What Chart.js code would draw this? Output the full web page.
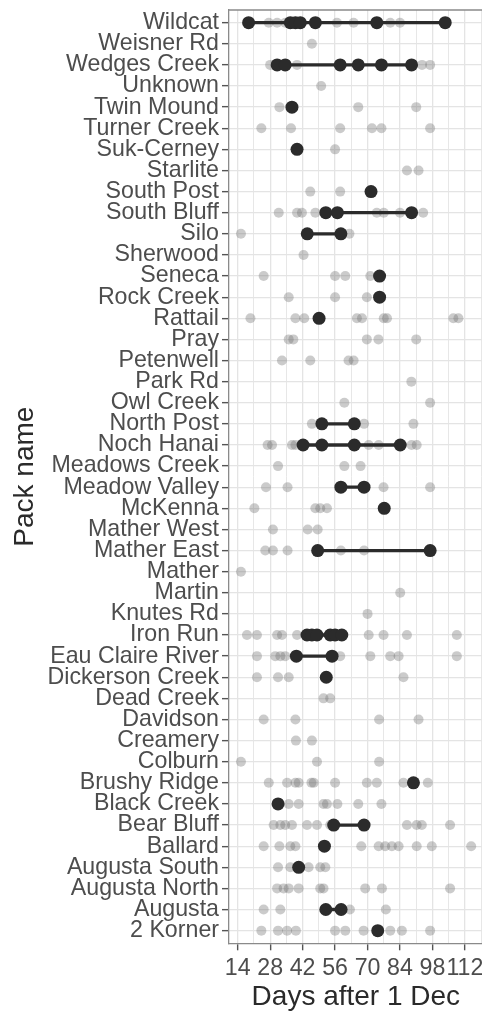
<!DOCTYPE html>
<html>
<head>
<meta charset="utf-8">
<script src="https://cdn.jsdelivr.net/npm/chart.js@4/dist/chart.umd.min.js"></script>
<style>
html,body{margin:0;padding:0;background:#fff;overflow:hidden;}
#wrap{position:absolute;left:0;top:0;width:500px;height:1012px;}
</style>
</head>
<body>
<div id="wrap"><canvas id="c" width="500" height="1012"></canvas></div>
<script>
const packs = ["Wildcat","Weisner Rd","Wedges Creek","Unknown","Twin Mound","Turner Creek","Suk-Cerney","Starlite","South Post","South Bluff","Silo","Sherwood","Seneca","Rock Creek","Rattail","Pray","Petenwell","Park Rd","Owl Creek","North Post","Noch Hanai","Meadows Creek","Meadow Valley","McKenna","Mather West","Mather East","Mather","Martin","Knutes Rd","Iron Run","Eau Claire River","Dickerson Creek","Dead Creek","Davidson","Creamery","Colburn","Brushy Ridge","Black Creek","Bear Bluff","Ballard","Augusta South","Augusta North","Augusta","2 Korner"];

// all detections (grey), one list per pack
const greyDays = [
  [27.4,31,34.5,56.8,64,79.8,84],
  [46],
  [28,39.6,93.5,97],
  [50],
  [32,66,91],
  [24.2,37,58.2,71.9,76,97],
  [56],
  [87,92],
  [45.3,58.2],
  [31.7,39.6,41.7,47.5,74,77,84,94],
  [15.4,62.2],
  [42.4],
  [25.2,56,60.4,71.2],
  [36,56,69.7],
  [19.5,38.9,42.7,65.4,67.6,77,78.4,107,109.2],
  [36,38,69.7,74.7,91],
  [33.1,45.3,61.8,64],
  [88.9],
  [60,97],
  [46,68.5,89.8],
  [26.9,28.8,37.4,38.9,70.5,74.8,89,91.2],
  [31.4,60,67],
  [26.2,35.5,76.9,97],
  [21.2,47.5,49.6,52.5],
  [29.2,44.2,48.5],
  [25.9,29.2,35.5,58.5,68.5],
  [15.4],
  [84.1],
  [70],
  [18,22.3,31,33.1,39.6,70.5,76.9,87,108.5],
  [22.3,30.2,32.4,34.5,58.2,71.2,79.8,83.4,108.5],
  [22.3,31.4,36,85.5],
  [51,53.9],
  [25.2,38.9,75,92],
  [39.1,46],
  [15.4,48.2,75],
  [27.4,35.3,38.9,40.3,45.8,46.8,56,69.7,74,85.5,96],
  [36,40.3,51,52.5,57,66,76],
  [29.5,32.4,34.5,37.4,43.9,48.2,53.9,87,91.2,93.4,105.6],
  [25.2,32,36.7,38.9,67.3,74.8,77.6,80.5,83.4,91.2,97.7,114.7],
  [31.4,36.7,44.6,49.6,51.8],
  [31,33.8,36,40.3,49.6,51,69,76.2,105.6],
  [25.2,32.4,62.4,77.9],
  [24.2,31.4,35.3,39.1,56,60.4,68.3,79.8,84.8,97]
];

// highlighted detections (black), one list per pack
const blackDays = [
  [18.7,36.7,38.9,41,47.5,74,103.5],
  [],
  [31,34.5,58.2,66,76,89],
  [],
  [37.4],
  [],
  [39.6],
  [],
  [71.5],
  [52,57,89],
  [44,58.5],
  [],
  [75.2],
  [75.2],
  [49.1],
  [],
  [],
  [],
  [],
  [50.3,64.3],
  [42.2,50.3,64.3,84.1],
  [],
  [58.5,68.5],
  [77.2],
  [],
  [48.5,97],
  [],
  [],
  [],
  [43.9,46,48.2,53.9,56,58.9],
  [39.3,54.7],
  [52.2],
  [],
  [],
  [],
  [],
  [89.8],
  [31.4],
  [55.4,68.5],
  [51.4],
  [40.3],
  [],
  [52,58.6],
  [74.4]
];

const xTickValues = [14,21,28,35,42,49,56,63,70,77,84,91,98,105,112,119];
const xLabelValues = [14,28,42,56,70,84,98,112];

const FONT = "'Liberation Sans', Arial, sans-serif";

const datasets = [];
const greyData = [];
greyDays.forEach((arr,i)=>arr.forEach(d=>greyData.push({x:d,y:i})));
datasets.push({
  type:'scatter', data:greyData, order:10,
  pointRadius:5, pointBorderWidth:0,
  pointBackgroundColor:'rgba(110,110,110,0.36)', showLine:false
});
blackDays.forEach((arr,i)=>{
  if(!arr.length) return;
  datasets.push({
    type:'line', data:arr.slice().sort((a,b)=>a-b).map(d=>({x:d,y:i})), order:1,
    borderColor:'#2b2b2b', borderWidth:3.3, pointRadius:6.5, pointBorderWidth:0,
    pointBackgroundColor:'#2b2b2b', tension:0, fill:false
  });
});

const topBorder = {
  id:'topBorder',
  afterDraw(chart){
    const {ctx, chartArea:a} = chart;
    ctx.save();
    ctx.strokeStyle='#8a8a8a'; ctx.lineWidth=1.3;
    ctx.beginPath(); ctx.moveTo(a.left, a.top); ctx.lineTo(a.right+2, a.top); ctx.stroke();
    ctx.restore();
  }
};

new Chart(document.getElementById('c'), {
  type:'scatter',
  data:{datasets},
  plugins:[topBorder],
  options:{
    responsive:false, animation:false, events:[],
    layout:{padding:{top:10,right:17.3,bottom:0,left:0}},
    plugins:{legend:{display:false}, tooltip:{enabled:false}},
    scales:{
      x:{
        type:'linear', min:10.25, max:119.67,
        afterBuildTicks:s=>{ s.ticks = xTickValues.map(v=>({value:v})); },
        afterFit:s=>{ s.height = 68.7; s.paddingLeft=0; s.paddingRight=0; },
        ticks:{
          autoSkip:false, maxRotation:0, padding:4, color:'#4d4d4d',
          font:{family:FONT, size:23.2},
          callback:v=> xLabelValues.includes(v) ? String(v) : ''
        },
        grid:{
          color:'#e4e4e4',
          lineWidth:c=> (c.tick && xLabelValues.includes(c.tick.value)) ? 1.3 : 0.9,
          tickColor:c=> (c.tick && xLabelValues.includes(c.tick.value)) ? '#555' : 'rgba(0,0,0,0)',
          tickLength:7, tickWidth:1.4
        },
        border:{display:true, color:'#8a8a8a', width:1.3},
        title:{display:true, text:'Days after 1 Dec', color:'#2a2a2a',
          font:{family:FONT, size:28, lineHeight:1}, padding:{top:0,bottom:0.5}}
      },
      y:{
        type:'linear', min:-0.6, max:43.6, reverse:true,
        afterBuildTicks:s=>{ s.ticks = packs.map((p,i)=>({value:i})); },
        afterFit:s=>{ s.width = 229; s.paddingTop=0; s.paddingBottom=0; },
        ticks:{
          autoSkip:false, padding:3, color:'#4d4d4d',
          font:{family:FONT, size:23.2},
          callback:v=> packs[v] !== undefined ? packs[v] : ''
        },
        grid:{color:'#e4e4e4', lineWidth:1.3, tickColor:'#555', tickLength:7, tickWidth:1.4},
        border:{display:true, color:'#8a8a8a', width:1.3},
        title:{display:true, text:'Pack name', color:'#2a2a2a',
          font:{family:FONT, size:28, lineHeight:1.2}, padding:{top:8,bottom:0}}
      }
    }
  }
});
</script>
</body>
</html>
